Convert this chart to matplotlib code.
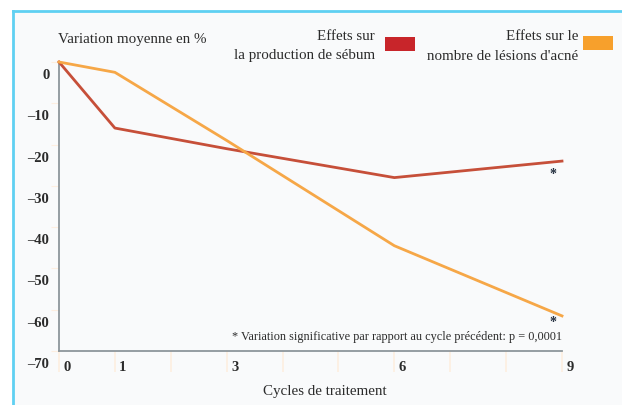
import matplotlib.pyplot as plt
import matplotlib.transforms as mtransforms
from matplotlib.lines import Line2D
from matplotlib.patches import Rectangle

# data
cycles = [0, 1, 3, 6, 9]
sebum = [0, -16, -21, -28, -24]
lesions = [0, -2.5, -19, -44.5, -61.5]
x_ticks = [0, 1, 3, 6, 9]
y_ticks = [0, -10, -20, -30, -40, -50, -60, -70]

red = "#c64f39"
orange = "#f6a747"
text_col = "#2b2b2b"
faint = "#fdeee0"

plt.rcParams["font.family"] = ["Liberation Serif", "DejaVu Serif"]

fig = plt.figure(figsize=(6.22, 4.05), dpi=100)
W, H = 622, 405

# page background and cyan frame
bg = Rectangle((13 / W, 0), 1, 1 - 11 / H, transform=fig.transFigure,
               facecolor="#f9fafb", edgecolor="none", zorder=-10)
fig.add_artist(bg)
fig.add_artist(Line2D([13 / W, 13 / W], [0, 1 - 11 / H], color="#5fd0f2", lw=2))
fig.add_artist(Line2D([13 / W, 1], [1 - 11 / H, 1 - 11 / H], color="#5fd0f2", lw=2))

ax = fig.add_axes([59 / W, 54 / H, (562 - 59) / W, (351 - 62) / H])
ax.set_facecolor("none")

ax.plot(cycles, sebum, color=red, lw=2.0, clip_on=False, zorder=3)
ax.plot(cycles, lesions, color=orange, lw=2.0, clip_on=False, zorder=3)

ax.set_xlim(0, 9)
ax.set_ylim(-70, 0)

# spines
for s in ["top", "right"]:
    ax.spines[s].set_visible(False)
for s in ["left", "bottom"]:
    ax.spines[s].set_color("#8d969b")
    ax.spines[s].set_linewidth(1.3)

# y ticks, labels sit a bit under the tick marks
ax.set_yticks(y_ticks)
ax.set_yticklabels([str(v).replace("-", "\u2013") for v in y_ticks])
ax.tick_params(axis="y", length=6, color=faint, pad=1, labelsize=10.5,
               labelcolor=text_col)
off_y = mtransforms.ScaledTranslation(0, -12 / 100, fig.dpi_scale_trans)
for lab in ax.get_yticklabels():
    lab.set_fontweight("bold")
    lab.set_transform(lab.get_transform() + off_y)

# x ticks, faint marks at every cycle
ax.set_xticks(x_ticks)
ax.set_xticks(range(0, 10), minor=True)
ax.xaxis.remove_overlapping_locs = False
ax.tick_params(axis="x", which="major", length=0, pad=7, labelsize=10.5,
               labelcolor=text_col)
ax.tick_params(axis="x", which="minor", length=15, color=faint, width=1.2)
off_x = mtransforms.ScaledTranslation(8 / 100, 0, fig.dpi_scale_trans)
for lab in ax.get_xticklabels():
    lab.set_fontweight("bold")
    lab.set_transform(lab.get_transform() + off_x)

# significance stars and footnote
ax.text(8.84, -27.2, "*", ha="center", va="center", fontsize=10,
        fontweight="bold", color="#253040")
ax.text(8.84, -63.0, "*", ha="center", va="center", fontsize=10,
        fontweight="bold", color="#253040")
ax.text(9, -66.6, "* Variation significative par rapport au cycle précédent: p = 0,0001",
        ha="right", va="center", fontsize=8.8, color=text_col)

# titles
fig.text(58 / W, 1 - 40 / H, "Variation moyenne en %", ha="left", va="center",
         fontsize=10.8, color=text_col)
fig.text(325 / W, 1 - 391 / H, "Cycles de traitement", ha="center", va="center",
         fontsize=10.8, color=text_col)

# legend
fig.text(375 / W, 1 - 37 / H, "Effets sur", ha="right", va="center",
         fontsize=10.8, color=text_col)
fig.text(375 / W, 1 - 56 / H, "la production de sébum", ha="right", va="center",
         fontsize=10.8, color=text_col)
fig.add_artist(Rectangle((385 / W, 1 - 51 / H), 30 / W, 14 / H,
                         transform=fig.transFigure, facecolor="#c8252a",
                         edgecolor="none"))
fig.text(578 / W, 1 - 37 / H, "Effets sur le", ha="right", va="center",
         fontsize=10.8, color=text_col)
fig.text(578 / W, 1 - 56 / H, "nombre de lésions d'acné", ha="right", va="center",
         fontsize=10.8, color=text_col)
fig.add_artist(Rectangle((583 / W, 1 - 50 / H), 30 / W, 14 / H,
                         transform=fig.transFigure, facecolor="#f7a02c",
                         edgecolor="none"))

plt.savefig("out.png", dpi=100)
